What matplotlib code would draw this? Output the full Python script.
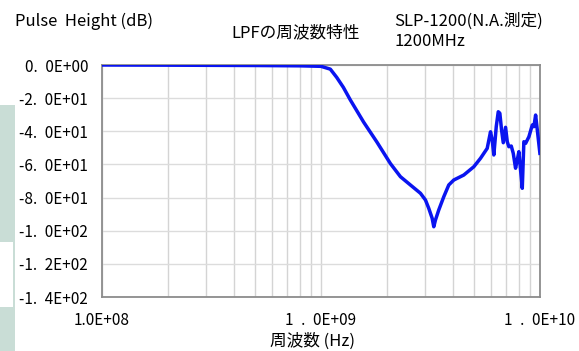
import matplotlib
matplotlib.use("Agg")
import matplotlib.pyplot as plt
from matplotlib.patches import Rectangle
from matplotlib.ticker import LogLocator, NullFormatter, FixedLocator

plt.rcParams['font.family'] = ['Noto Sans CJK JP', 'DejaVu Sans']

# LPF response (SLP-1200), frequency in Hz, attenuation in dB
freq_hz = [1.0e8, 2.0e8, 5.0e8, 8.0e8, 1.0e9, 1.103e9, 1.18e9, 1.265e9, 1.36e9,
           1.566e9, 1.80e9, 2.075e9, 2.305e9, 2.56e9, 2.845e9, 3.0e9, 3.105e9,
           3.218e9, 3.273e9, 3.332e9, 3.449e9, 3.636e9, 3.832e9, 4.04e9, 4.487e9,
           4.986e9, 5.35e9, 5.74e9, 5.944e9, 6.05e9, 6.155e9, 6.313e9, 6.447e9,
           6.556e9, 6.675e9, 6.796e9, 6.962e9, 7.088e9, 7.208e9, 7.392e9, 7.549e9,
           7.734e9, 7.874e9, 8.008e9, 8.152e9, 8.30e9, 8.44e9, 8.595e9, 8.899e9,
           9.222e9, 9.379e9, 9.55e9, 9.72e9, 9.99e9]
gain_db = [0.0, -0.1, -0.3, -0.5, -0.8, -2.5, -7.5, -13.5, -21.0,
           -34.5, -46.5, -59.5, -67.4, -72.4, -77.4, -81.5, -86.5,
           -92.5, -97.6, -93.5, -87.5, -79.5, -72.4, -69.4, -66.4,
           -61.4, -56.3, -50.3, -40.3, -45.3, -54.3, -37.2, -28.2,
           -29.1, -39.2, -46.9, -37.6, -46.3, -49.3, -48.9, -53.3,
           -62.3, -57.3, -52.3, -63.4, -74.4, -46.3, -47.3, -43.3,
           -36.2, -37.2, -30.2, -39.2, -53.3]

y_ticks = [0, -20, -40, -60, -80, -100, -120, -140]
y_labels = ["0.\u20020E+00", "-2.\u20020E+01", "-4.\u20020E+01", "-6.\u20020E+01",
            "-8.\u20020E+01", "-1.\u20020E+02", "-1.\u20022E+02", "-1.\u20024E+02"]
x_ticks = [1e8, 1e9, 1e10]
x_labels = ["1.0E+08", "1\u2002.\u20020E+09", "1\u2002.\u20020E+10"]

W, H = 579, 351
fig = plt.figure(figsize=(W / 100, H / 100), dpi=100)
fig.patch.set_facecolor("white")

# side panel strips at the left edge
green = "#c9ddd6"
fig.patches.append(Rectangle((0, 1 - 242 / H), 15 / W, 137 / H,
                             transform=fig.transFigure, facecolor=green, edgecolor="none"))
fig.patches.append(Rectangle((13 / W, 1 - 307 / H), 2 / W, 65 / H,
                             transform=fig.transFigure, facecolor=green, edgecolor="none"))
fig.patches.append(Rectangle((0, 0), 15 / W, 44 / H,
                             transform=fig.transFigure, facecolor=green, edgecolor="none"))

left, right, top, bottom = 102, 540, 65, 297
ax = fig.add_axes([left / W, 1 - bottom / H, (right - left) / W, (bottom - top) / H])
ax.set_xscale("log")
ax.set_xlim(1e8, 1e10)
ax.set_ylim(-140, 0)

ax.plot(freq_hz, gain_db, color="#0a14f0", lw=2.5, solid_joinstyle="round", zorder=3)

# grid
ax.xaxis.set_major_locator(FixedLocator(x_ticks))
ax.xaxis.set_minor_locator(LogLocator(base=10, subs=range(2, 10)))
ax.xaxis.set_minor_formatter(NullFormatter())
ax.set_xticklabels([])
ax.set_yticks(y_ticks)
ax.set_yticklabels(y_labels)
ax.grid(True, which="both", axis="x", color="#d4d4d4", lw=1.0)
ax.grid(True, which="major", axis="y", color="#dcdcdc", lw=1.0)
ax.tick_params(axis="both", which="both", length=0)
ax.tick_params(axis="y", pad=10, labelsize=11)
for s in ax.spines.values():
    s.set_color("#8c8c8c")
    s.set_linewidth(1.3)

for xv, lab in zip(x_ticks, x_labels):
    ax.annotate(lab, xy=(xv, 0), xycoords=("data", "axes fraction"),
                xytext=(0, -17), textcoords="offset points",
                ha="center", va="center", fontsize=11)

fig.text(15 / W, 1 - 21 / H, "Pulse  Height (dB)", fontsize=12, ha="left", va="center")
fig.text(231 / W, 1 - 33 / H, "LPFの周波数特性", fontsize=12, ha="left", va="center")
fig.text(394 / W, 1 - 21 / H, "SLP-1200(N.A.測定)", fontsize=12, ha="left", va="center")
fig.text(394 / W, 1 - 41 / H, "1200MHz", fontsize=12, ha="left", va="center")
fig.text(313 / W, 1 - 341 / H, "周波数 (Hz)", fontsize=12, ha="center", va="center")

fig.savefig("out.png", dpi=100, facecolor="white")
